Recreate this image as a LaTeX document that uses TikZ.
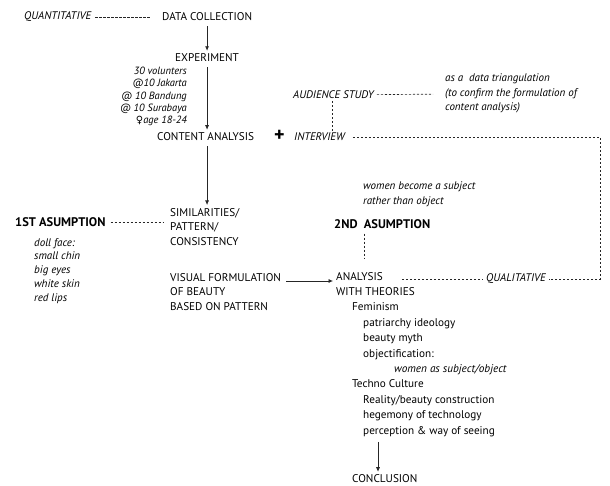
\documentclass[tikz,border=0pt]{standalone}
\usepackage{fontspec}
\setmainfont{PT Sans}
\newfontfamily\symfont{DejaVu Sans}
\usetikzlibrary{arrows.meta}
\begin{document}
\begin{tikzpicture}[x=1pt,y=-1pt,
  txt/.style={font=\fontsize{11.2}{14.6}\selectfont,inner sep=0pt,anchor=west,text=black},
  note/.style={txt,font=\fontsize{11}{14.2}\selectfont\itshape},
  hd/.style={txt,font=\fontsize{12.5}{14}\selectfont\bfseries},
  link/.style={draw=black!85,line width=0.7pt,-{Latex[length=4.5pt,width=4pt]},shorten <=5pt,shorten >=3pt},
  dots/.style={draw=black!85,line width=0.65pt,dash pattern=on 2.2pt off 1.8pt},
]
\useasboundingbox (0,0) rectangle (610,486);
% quantitative branch
\node[note] (quant) at (24,17) {QUANTITATIVE};
\node[txt] (datacol) at (162,17) {DATA COLLECTION};
\node[txt] (exper) at (175,58) {EXPERIMENT};
\node[note,anchor=north east,align=right,font=\fontsize{10.5}{12.3}\selectfont\itshape] (volun) at (187,67)
  {30 volunters\\@10 Jakarta\\@ 10 Bandung\\@ 10 Surabaya\\{\symfont\upshape\fontsize{10}{12}\selectfont ♀}age 18-24};
\node[txt] (content) at (157,137) {CONTENT ANALYSIS};
\node[txt,font=\fontsize{20}{20}\selectfont\bfseries] (plus) at (274,136) {+};
% qualitative branch
\node[note] (intv) at (294,137) {INTERVIEW};
\node[note] (aud) at (293,95) {AUDIENCE STUDY};
\node[note,anchor=north west,align=left] (triang) at (445,74)
  {as a~~data triangulation\\(to confirm the formulation of\\content analysis)};
\coordinate (corner) at (600,137);
% assumptions
\node[txt,anchor=north west,align=left] (simil) at (170,208) {SIMILARITIES/\\PATTERN/\\CONSISTENCY};
\node[hd] (asum1) at (15,222) {1ST ASUMPTION};
\node[note,anchor=north west,align=left,font=\fontsize{11}{13.9}\selectfont\itshape] (doll) at (34,238)
  {doll face:\\small chin\\big eyes\\white skin\\red lips};
\node[txt,anchor=north west,align=left] (visual) at (170,273) {VISUAL FORMULATION\\OF BEAUTY\\BASED ON PATTERN};
\node[note,anchor=north west,align=left,font=\fontsize{11}{15}\selectfont\itshape] (women) at (363,182)
  {women become a subject\\rather than object};
\node[hd] (asum2) at (334,224) {2ND~~ASUMPTION};
% theories
\node[txt,anchor=north west,align=left,font=\fontsize{11.2}{15.4}\selectfont] (theory) at (336,272)
  {ANALYSIS\\WITH THEORIES\\\hspace*{16pt}Feminism\\\hspace*{27pt}patriarchy ideology\\\hspace*{27pt}beauty myth\\
   \hspace*{27pt}objectification:\\\hspace*{58pt}\textit{women as subject/object}\\\hspace*{16pt}Techno Culture\\
   \hspace*{27pt}Reality/beauty construction\\\hspace*{27pt}hegemony of technology\\\hspace*{27pt}perception \& way of seeing};
\node[note] (qual) at (486,279) {QUALITATIVE};
\node[txt] (concl) at (352,479) {CONCLUSION};
\coordinate (analysis) at ([yshift=-7pt]theory.north west);
\coordinate (down) at ([xshift=42pt]theory.south west);
% connectors
\draw[dots,shorten <=4pt,shorten >=12pt] (quant) -- (datacol);
\draw[link] (exper.north |- datacol.south) -- (exper.north);
\draw[link] (exper.south) -- (exper.south |- content.north);
\draw[link] (content.south -| exper) -- (simil.north -| exper);
\draw[dots,shorten <=3pt,shorten >=12pt] (aud) -- (triang);
\draw[dots,shorten <=2pt,shorten >=2pt] ([xshift=39pt]aud.south west) -- ([xshift=39pt]aud.south west |- intv.north);
\draw[dots] ([xshift=8pt]intv.east) -- (corner) |- ([xshift=3pt]qual.east);
\draw[dots,shorten <=5pt,shorten >=7pt] (asum1.east) -- (asum1.east -| simil.west);
\draw[link] ([yshift=-8pt]visual.north east) -- ([yshift=-8pt]visual.north east -| analysis);
\draw[dots,shorten <=5pt,shorten >=14pt] ([xshift=30pt]asum2.south west) -- ([xshift=30pt]asum2.south west |- theory.north);
\draw[dots] ([xshift=66pt]analysis) -- ([xshift=-3pt]qual.west);
\draw[link] (down) -- (down |- concl.north);
\end{tikzpicture}
\end{document}
